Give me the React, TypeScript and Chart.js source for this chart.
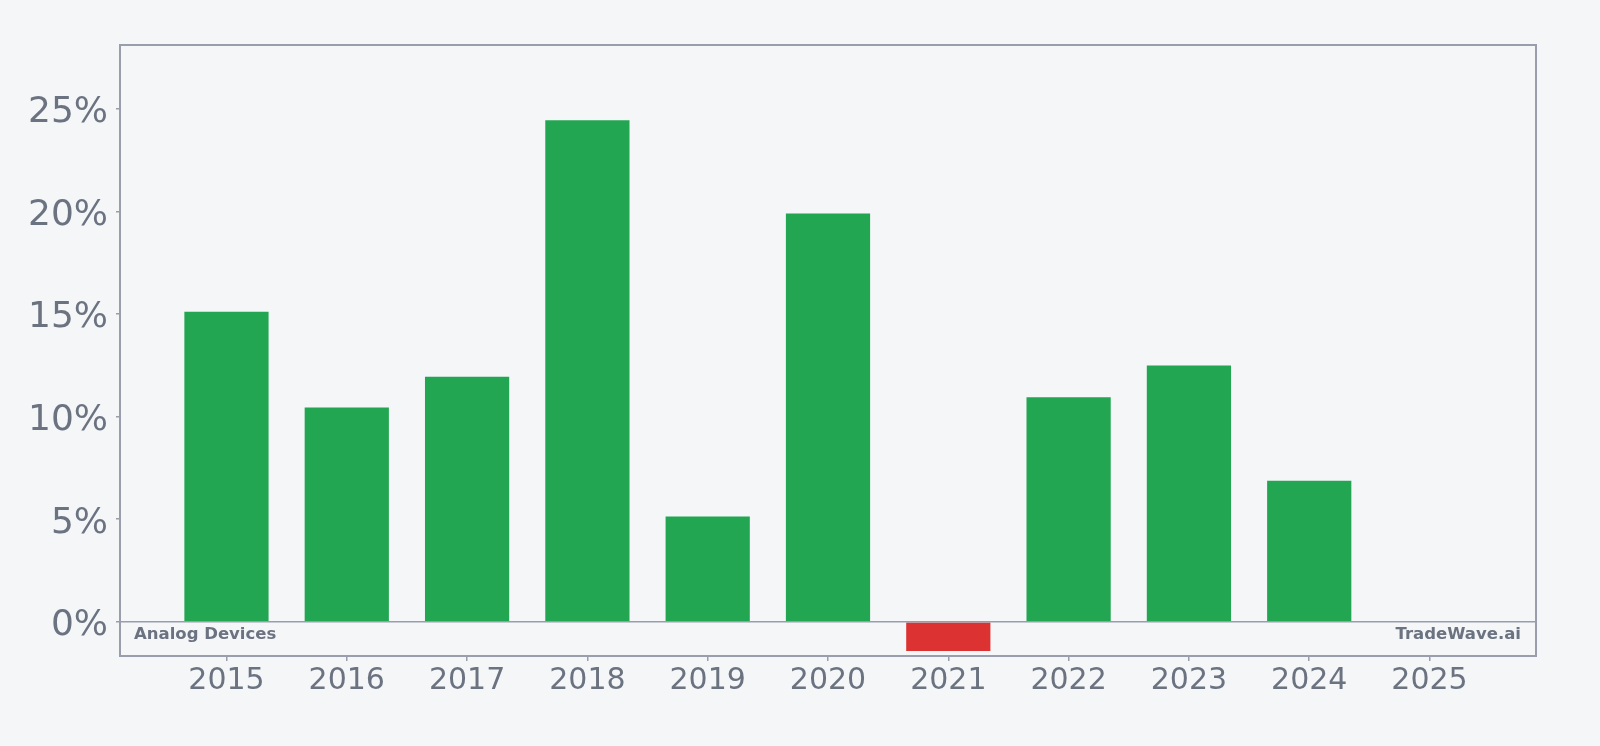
import React, { useEffect, useRef } from "react";
import { Chart, registerables } from "chart.js";

Chart.register(...registerables);

const years = [2015, 2016, 2017, 2018, 2019, 2020, 2021, 2022, 2023, 2024, 2025];
const growth: (number | null)[] = [15.12, 10.45, 11.94, 24.45, 5.13, 19.9, -1.43, 10.94, 12.49, 6.88, null];
const yTicks = [0, 5, 10, 15, 20, 25];
const leftLabel = "Analog Devices";
const rightLabel = "TradeWave.ai";

const BG = "#f4f6f8";
const GREEN = "#22a652";
const RED = "#dc3232";
const BORDER = "#9a9dab";
const TEXT = "#6b7280";
const FONT = "'DejaVu Sans', sans-serif";

export default function App() {
  const ref = useRef<HTMLCanvasElement | null>(null);

  useEffect(() => {
    document.body.style.margin = "0";
    document.body.style.background = BG;
    const canvas = ref.current;
    if (!canvas) return;

    const frame = {
      id: "frame",
      afterDatasetsDraw(chart: any) {
        const { ctx, chartArea, scales } = chart;
        ctx.save();
        const y0 = scales.y.getPixelForValue(0);
        ctx.strokeStyle = BORDER;
        ctx.lineWidth = 1.5;
        ctx.beginPath();
        ctx.moveTo(chartArea.left, y0);
        ctx.lineTo(chartArea.right, y0);
        ctx.stroke();
        ctx.lineWidth = 2;
        ctx.strokeRect(chartArea.left, chartArea.top, chartArea.right - chartArea.left, chartArea.bottom - chartArea.top);
        ctx.fillStyle = TEXT;
        ctx.font = `bold 16.5px ${FONT}`;
        ctx.textBaseline = "alphabetic";
        const ty = y0 + 17;
        ctx.textAlign = "left";
        ctx.fillText(leftLabel, chartArea.left + 14, ty);
        ctx.textAlign = "right";
        ctx.fillText(rightLabel, chartArea.right - 15, ty);
        ctx.restore();
      },
    };

    const chart = new Chart(canvas, {
      type: "bar",
      data: {
        datasets: [
          {
            data: years.map((x, i) => ({ x, y: growth[i] })) as any,
            backgroundColor: (c: any) => ((c.raw && c.raw.y < 0) ? RED : GREEN),
            barPercentage: 0.7,
            categoryPercentage: 1.0,
            borderWidth: 0,
          },
        ],
      },
      options: {
        animation: false,
        responsive: false,
        maintainAspectRatio: false,
        layout: { padding: { left: 0, right: 64, top: 45, bottom: 0 } },
        plugins: { legend: { display: false }, tooltip: { enabled: false } },
        scales: {
          x: {
            type: "linear",
            offset: false,
            min: 2014.115,
            max: 2025.885,
            afterBuildTicks: (s: any) => {
              s.ticks = years.map((v) => ({ value: v }));
            },
            afterFit: (s: any) => {
              s.height = 90;
            },
            grid: { display: true, offset: false, drawOnChartArea: false, tickLength: 5, tickColor: BORDER, lineWidth: 1.5 },
            border: { display: false },
            ticks: {
              autoSkip: false,
              maxRotation: 0,
              padding: 2,
              color: TEXT,
              font: { family: FONT, size: 30 },
              callback: (v: any) => String(v),
            },
          },
          y: {
            type: "linear",
            min: -1.67,
            max: 28.12,
            afterBuildTicks: (s: any) => {
              s.ticks = yTicks.map((v) => ({ value: v }));
            },
            afterFit: (s: any) => {
              s.width = 120;
            },
            grid: { display: true, drawOnChartArea: false, tickLength: 4, tickColor: BORDER, lineWidth: 1.5 },
            border: { display: false },
            ticks: {
              padding: 8,
              labelOffset: 4,
              color: TEXT,
              font: { family: FONT, size: 36 },
              callback: (v: any) => `${v}%`,
            },
          },
        },
      },
      plugins: [frame],
    });
    return () => chart.destroy();
  }, []);

  return (
    <div style={{ width: 1600, height: 746, background: BG }}>
      <canvas ref={ref} width={1600} height={746} style={{ display: "block" }} />
    </div>
  );
}
